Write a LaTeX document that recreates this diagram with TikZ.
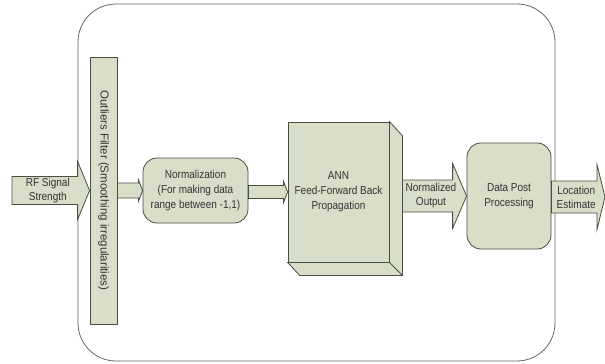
\documentclass[tikz,border=0pt]{standalone}
\usepackage{fontspec}
\setmainfont[FakeStretch=0.87]{Liberation Sans}
\newfontfamily\uprightfont{Liberation Sans}
\usetikzlibrary{calc}

\definecolor{boxfill}{RGB}{216,222,199}
\definecolor{boxline}{RGB}{72,78,66}

\tikzset{
  block/.style={draw=boxline, fill=boxfill, line width=0.8pt, align=center, text=black!80,
    font=\fontsize{11.5}{15}\selectfont, inner sep=2pt},
  roundblock/.style={block, rounded corners=14pt},
  face/.style={draw=boxline, fill=boxfill, line width=0.8pt, line join=miter},
  arrowtext/.style={align=center, text=black!80, font=\fontsize{11.5}{14}\selectfont, inner sep=0pt},
}

% fat arrow: from, to, half body, half head, head length, label
\newcommand{\blockarrow}[6]{
  \draw[face] let \p1=(#1), \p2=(#2) in
    (\x1,\y2+#3) -- (\x2-#5,\y2+#3) -- (\x2-#5,\y2+#4) -- (\x2,\y2)
    -- (\x2-#5,\y2-#4) -- (\x2-#5,\y2-#3) -- (\x1,\y2-#3) -- cycle
    ({(\x1+\x2-#5/2)/2},\y2) node[arrowtext] {#6};
}

\begin{document}
\begin{tikzpicture}[x=1pt, y=-1pt]
\useasboundingbox (0,0) rectangle (605,364);

\node [draw=boxline!85, line width=0.8pt, rounded corners=38pt, inner sep=0pt,
  minimum width=477pt, minimum height=357pt] (system) at (316.5,182.5) {};

\node [block, rotate=-90, inner sep=0pt, minimum width=267pt, minimum height=27pt,
  font=\uprightfont\fontsize{11.5}{14}\selectfont] (filter)
  at (103.5,190.5) {Outliers Filter (Smoothing irregularities)};

\node [roundblock, minimum width=105pt, minimum height=65pt] (norm) at (195.5,190.5) {
	Normalization \\
	(For making data \\
	range between -1,1)};

\node [block, minimum width=101pt, minimum height=140pt] (ann) at (338.5,192) {
	ANN \\
	Feed-Forward Back \\
	Propagation};

% side and bottom of the box
\draw [face] (ann.north east) -- ++(13,14) -- ($(ann.south east)+(13,13)$)
  -- ($(ann.south west)+(12,13)$) -- (ann.south west) -- (ann.south east) -- cycle;
\draw [face] (ann.south east) -- ++(13,13);

\node [roundblock, minimum width=84pt, minimum height=106pt] (dpp) at (509,196) {
	Data Post \\
	Processing};

\coordinate (rfin) at (12,190);
\coordinate (annside) at ($(ann.east)+(13,0)$);
\coordinate (locout) at (605,197);

\blockarrow{rfin}{filter.south}{14pt}{29pt}{12pt}{RF Signal\\Strength}
\blockarrow{filter.north}{norm.west}{7.5pt}{10.5pt}{4pt}{}
\blockarrow{norm.east}{ann.west}{6.5pt}{10.5pt}{4pt}{}
\blockarrow{annside}{dpp.west}{16pt}{32.5pt}{14pt}{Normalized\\Output}
\blockarrow{dpp.east}{locout}{16pt}{32.5pt}{8pt}{Location\\Estimate}

\end{tikzpicture}
\end{document}
